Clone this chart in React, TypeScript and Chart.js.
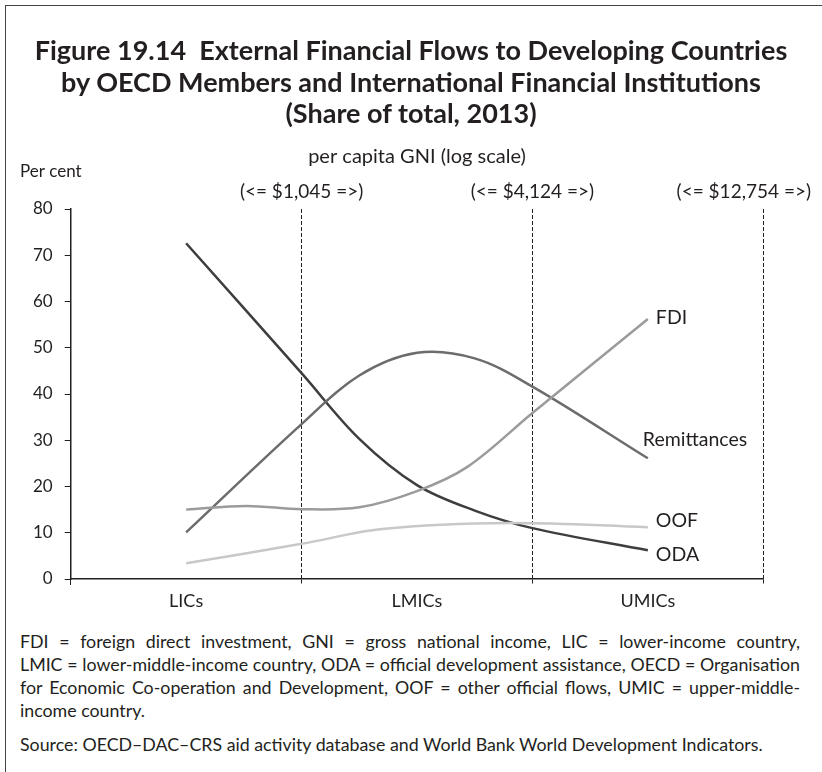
import React, { useEffect, useRef } from 'react';
import { Chart, registerables } from 'chart.js';

Chart.register(...registerables);

// ---- Data ----
const categories = ['LICs', 'LMICs', 'UMICs'];
const thresholdLabels = ['(<= $1,045 =>)', '(<= $4,124 =>)', '(<= $12,754 =>)'];
const thresholdPositions = [1, 2, 3];

const seriesNames = ['FDI', 'Remittances', 'OOF', 'ODA'];

const fdiX = [0.5, 0.76, 1.0, 1.25, 1.5, 1.72, 2.0, 2.5];
const fdiY = [15.0, 15.8, 15.1, 15.5, 19.0, 24.3, 35.9, 56.2];

const remitX = [0.5, 1.0, 1.25, 1.5, 1.75, 2.0, 2.5];
const remitY = [10.1, 33.5, 44.0, 48.9, 47.7, 41.6, 26.1];

const oofX = [0.5, 1.0, 1.35, 1.9, 2.5];
const oofY = [3.4, 7.6, 10.8, 12.1, 11.2];

const odaX = [0.5, 1.0, 1.25, 1.5, 1.75, 2.0, 2.5];
const odaY = [72.6, 44.5, 30.3, 20.3, 14.8, 11.0, 6.2];

const noteLines = [
  'FDI = foreign direct investment, GNI = gross national income, LIC = lower-income country,',
  'LMIC = lower-middle-income country, ODA = official development assistance, OECD = Organisation',
  'for Economic Co-operation and Development, OOF = other official flows, UMIC = upper-middle-',
  'income country.',
];
const sourceText = 'Source: OECD–DAC–CRS aid activity database and World Bank World Development Indicators.';

const seriesColors = ['#9b9b9e', '#6c6c6c', '#c8c8c8', '#3e3e3e'];
// label offsets relative to each series' last point [dx, dy]
const labelOffsets = [[8, -1], [-5, -19], [8, -6], [8, 4]];

const FONT = 'Lato, "Open Sans", sans-serif';
const TEXT = '#231f20';

function toPoints(xs: number[], ys: number[]) {
  return xs.map((x, i) => ({ x, y: ys[i] }));
}

const textPlugin = {
  id: 'extraTexts',
  afterDraw(chart: any) {
    const { ctx, chartArea, scales } = chart;
    const xv = scales.xv;
    ctx.save();
    ctx.fillStyle = TEXT;
    ctx.textBaseline = 'middle';

    ctx.font = `20px ${FONT}`;
    ctx.textAlign = 'center';
    ctx.fillText('per capita GNI (log scale)', (chartArea.left + chartArea.right) / 2, 157);

    ctx.textAlign = 'left';
    ctx.font = `17px ${FONT}`;
    ctx.fillText('Per cent', 20, 172);

    ctx.font = `19px ${FONT}`;
    ctx.textAlign = 'center';
    thresholdLabels.forEach((t, i) => {
      let x = xv.getPixelForValue(thresholdPositions[i]);
      const w = ctx.measureText(t).width;
      if (x + w / 2 > chart.width - 11) x = chart.width - 11 - w / 2;
      ctx.fillText(t, x, 192);
    });

    ctx.font = `19.5px ${FONT}`;
    ctx.textAlign = 'left';
    chart.data.datasets.forEach((ds: any, i: number) => {
      const meta = chart.getDatasetMeta(i);
      const last = meta.data[meta.data.length - 1];
      const [dx, dy] = labelOffsets[i];
      ctx.fillText(seriesNames[i], last.x + dx, last.y + dy);
    });
    ctx.restore();
  },
};

function LineChart() {
  const ref = useRef<HTMLCanvasElement | null>(null);
  useEffect(() => {
    if (!ref.current) return;
    const datasets = [
      toPoints(fdiX, fdiY),
      toPoints(remitX, remitY),
      toPoints(oofX, oofY),
      toPoints(odaX, odaY),
    ].map((data, i) => ({
      label: seriesNames[i],
      data,
      xAxisID: 'xv',
      yAxisID: 'y',
      borderColor: seriesColors[i],
      backgroundColor: seriesColors[i],
      borderWidth: 2.5,
      pointRadius: 0,
      tension: 0.35,
      fill: false,
    }));
    const chart = new Chart(ref.current, {
      type: 'line',
      data: { datasets },
      options: {
        animation: false,
        responsive: false,
        devicePixelRatio: 1,
        layout: { padding: { left: 0, right: 58.7, top: 209, bottom: 6 } },
        plugins: { legend: { display: false }, tooltip: { enabled: false }, title: { display: false } },
        scales: {
          x: {
            type: 'category',
            labels: categories,
            offset: true,
            position: 'bottom',
            grid: {
              offset: true,
              drawOnChartArea: true,
              color: (c: any) => (c.index === 0 ? 'rgba(0,0,0,0)' : '#231f20'),
              lineWidth: 1,
              tickLength: 6,
              tickColor: '#231f20',
              tickWidth: 1,
              tickBorderDash: (c: any) => (c.index === 0 ? [] : [4, 2]),
            },
            border: {
              display: true,
              color: '#231f20',
              width: 1.5,
              dash: (c: any) => (c.index === 0 ? [] : [4, 2]),
            },
            ticks: {
              color: TEXT,
              font: { family: FONT, size: 18 },
              padding: 5,
              maxRotation: 0,
            },
            afterFit: (s: any) => { s.height = 40; },
          },
          xv: {
            type: 'linear',
            display: false,
            min: 0,
            max: 3,
          },
          y: {
            type: 'linear',
            min: 0,
            max: 80,
            ticks: {
              stepSize: 10,
              color: TEXT,
              font: { family: FONT, size: 17 },
              padding: 12,
            },
            grid: {
              drawOnChartArea: false,
              tickLength: 6,
              tickColor: '#231f20',
            },
            border: { display: true, color: '#231f20', width: 1.5 },
            afterFit: (s: any) => { s.width = 70.7; },
          },
        },
      },
      plugins: [textPlugin],
    });
    return () => chart.destroy();
  }, []);
  return <canvas ref={ref} width={822} height={625} style={{ position: 'absolute', left: 0, top: 0 }} />;
}

export default function App() {
  return (
    <div style={{ position: 'fixed', left: 0, top: 0, width: 822, height: 772, background: '#fff', overflow: 'hidden', fontFamily: FONT, color: TEXT }}>
      <div style={{ position: 'absolute', left: 5, top: 5, right: 0, bottom: 0, borderTop: '1.5px solid #444', borderLeft: '1.5px solid #444' }} />
      <LineChart />
      <div style={{ position: 'absolute', left: 0, width: 822, top: 34, textAlign: 'center', fontWeight: 700, fontSize: 27, lineHeight: '31.5px' }}>
        <div>Figure 19.14&nbsp;&nbsp;External Financial Flows to Developing Countries</div>
        <div>by OECD Members and International Financial Institutions</div>
        <div>(Share of total, 2013)</div>
      </div>
      <div style={{ position: 'absolute', left: 20, width: 780, top: 629.5, fontSize: 17.8, lineHeight: '23px' }}>
        {noteLines.map((line, i) => (
          <div key={i} style={{ whiteSpace: 'nowrap', textAlign: 'justify', textAlignLast: i < noteLines.length - 1 ? 'justify' : 'left' } as any}>
            {line}
          </div>
        ))}
      </div>
      <div style={{ position: 'absolute', left: 20, width: 780, top: 732.5, fontSize: 17.8, lineHeight: '23px', whiteSpace: 'nowrap' }}>
        {sourceText}
      </div>
    </div>
  );
}
